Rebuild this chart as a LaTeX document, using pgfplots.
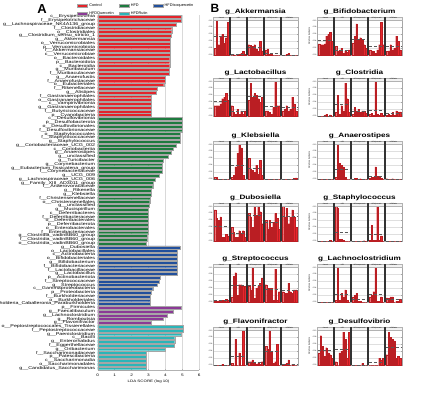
\documentclass[border=0pt]{standalone}
\usepackage{fontspec}
\setmainfont{Liberation Sans}
\newfontfamily\wfont[FakeStretch=1.3]{Liberation Sans}
\usepackage{pgfplots}
\usepackage{pgfplotstable}
\pgfplotsset{compat=1.18}
\definecolor{cred}{HTML}{E3242B}
\definecolor{cgreen}{HTML}{1E7B3F}
\definecolor{cblue}{HTML}{22509C}
\definecolor{cpurple}{HTML}{8B3A96}
\definecolor{ccyan}{HTML}{2BB5B8}
\definecolor{barred}{HTML}{E8262C}

% relative abundance per sample (5 groups x 8 samples)
\pgfplotstableread{
x  Akk  Bif  Lac  Clo  Kle  Ana  Dub  Sta  Str  Lcl  Fla  Des
1  0.20 0.32 0.30 0.00 0.05 0.00 0.90 0.00 0.02 0.00 0.00 0.35
2  1.00 0.30 0.30 0.00 0.05 0.00 0.65 0.00 0.02 0.00 0.00 0.85
3  0.30 0.30 0.30 0.00 0.00 0.00 0.60 0.00 0.03 0.00 0.00 0.55
4  0.55 0.32 0.35 0.02 0.00 0.00 0.70 0.00 0.02 0.00 0.00 0.25
5  0.60 0.55 0.50 0.05 0.00 0.00 0.10 0.00 0.05 0.00 0.02 0.50
6  0.35 0.60 0.55 0.00 0.00 0.00 0.10 0.00 0.05 0.00 0.00 0.35
7  0.50 0.65 0.65 0.03 0.00 0.00 0.20 0.02 0.08 0.00 0.00 0.30
8  0.95 0.40 0.45 0.00 0.00 0.00 0.15 0.00 0.05 0.00 0.00 0.20
10 0.00 0.25 0.30 0.10 0.05 0.05 0.40 1.00 0.15 0.05 0.05 0.10
11 0.01 0.10 0.10 0.60 0.10 1.00 0.25 0.95 0.75 1.00 0.00 0.00
12 0.00 0.15 0.05 0.05 0.35 0.45 0.10 0.05 0.85 0.05 0.75 0.35
13 0.02 0.20 0.20 0.30 0.75 0.40 0.10 0.05 0.20 0.25 0.00 0.40
14 0.02 0.05 0.05 0.15 1.00 0.35 0.30 0.02 0.50 0.15 0.35 0.95
15 0.05 0.12 0.15 0.95 0.90 0.05 0.20 0.00 0.50 0.35 0.00 0.75
16 0.10 0.08 0.05 0.50 0.10 0.00 0.30 0.00 0.45 0.05 1.00 0.20
17 0.02 0.15 0.15 0.10 0.00 0.00 0.10 0.00 0.45 0.00 0.00 0.95
19 0.30 0.35 0.45 0.05 0.60 0.00 0.80 0.00 0.45 0.15 0.10 0.00
20 0.28 0.55 0.95 0.25 0.30 0.02 0.70 0.00 0.35 0.20 0.10 0.00
21 0.25 0.90 0.55 0.15 0.25 0.02 0.40 0.00 1.00 0.25 0.15 0.00
22 0.30 0.45 0.65 0.20 0.20 0.00 1.00 0.00 0.10 0.02 0.05 0.00
23 0.18 0.50 0.60 0.10 0.40 0.01 0.75 0.00 0.40 0.02 0.02 0.00
24 0.10 0.45 0.50 0.15 0.15 0.00 1.00 0.00 0.45 0.00 0.05 0.05
25 0.40 0.30 0.40 0.15 0.55 0.00 0.85 0.01 0.55 0.00 0.02 0.00
26 0.12 0.20 0.55 0.08 0.10 0.00 0.50 0.00 0.70 0.00 0.10 0.00
28 0.15 0.15 0.15 0.05 0.00 0.02 0.60 0.02 0.50 0.15 0.55 0.00
29 0.18 0.12 0.15 0.08 0.00 0.05 0.35 0.45 0.40 0.20 0.45 0.00
30 0.02 0.10 0.10 0.02 0.00 0.05 0.60 0.02 0.40 0.30 1.00 0.00
31 0.02 0.05 0.05 1.00 0.00 0.35 0.40 0.02 0.40 1.00 0.40 0.00
32 0.00 0.15 0.25 0.05 0.00 0.08 0.55 1.00 0.05 0.02 0.05 0.00
33 0.00 0.30 1.00 0.02 0.00 0.05 0.80 0.02 0.95 0.02 0.10 0.20
34 0.00 0.95 0.30 0.08 0.00 0.02 0.65 0.15 0.05 0.15 0.60 0.15
35 0.00 0.30 0.30 0.02 0.00 0.00 0.35 0.00 0.30 0.00 0.00 0.20
37 0.00 0.10 0.15 0.02 0.00 0.01 1.00 0.00 0.30 0.12 0.02 0.30
38 0.00 0.12 0.20 0.05 0.00 0.00 0.70 0.00 0.25 0.10 0.02 0.95
39 0.02 0.30 0.30 0.02 0.00 0.00 0.95 0.00 0.25 0.15 0.05 0.80
40 0.05 0.15 0.15 0.10 0.00 0.01 0.50 0.00 0.55 0.15 0.15 0.75
41 0.00 0.20 0.20 0.02 0.00 0.00 0.70 0.00 0.30 0.00 0.00 0.70
42 0.00 0.55 0.55 0.15 0.00 0.00 0.90 0.00 0.25 0.02 0.02 0.20
43 0.00 0.40 0.35 0.12 0.02 0.00 0.70 0.00 0.35 0.02 0.00 0.25
44 0.00 0.15 0.15 0.12 0.03 0.00 0.40 0.00 0.35 0.08 0.00 0.20
}\bdata

% group means (dashed lines)
\pgfplotstableread{
x    Akk  Bif  Lac  Clo  Kle  Ana  Dub  Sta  Str  Lcl  Fla  Des
0.3  0.55 0.43 0.43 0.01 0.01 0.00 0.43 0.00 0.04 0.00 0.00 0.42
8.7  0.55 0.43 0.43 0.01 0.01 0.00 0.43 0.00 0.04 0.00 0.00 0.42
9    nan  nan  nan  nan  nan  nan  nan  nan  nan  nan  nan  nan
9.3  0.03 0.14 0.13 0.34 0.41 0.29 0.22 0.26 0.48 0.24 0.27 0.46
17.7 0.03 0.14 0.13 0.34 0.41 0.29 0.22 0.26 0.48 0.24 0.27 0.46
18   nan  nan  nan  nan  nan  nan  nan  nan  nan  nan  nan  nan
18.3 0.24 0.46 0.58 0.14 0.32 0.01 0.75 0.00 0.50 0.08 0.08 0.01
26.7 0.24 0.46 0.58 0.14 0.32 0.01 0.75 0.00 0.50 0.08 0.08 0.01
27   nan  nan  nan  nan  nan  nan  nan  nan  nan  nan  nan  nan
27.3 0.05 0.26 0.29 0.17 0.00 0.08 0.54 0.21 0.38 0.23 0.39 0.07
35.7 0.05 0.26 0.29 0.17 0.00 0.08 0.54 0.21 0.38 0.23 0.39 0.07
36   nan  nan  nan  nan  nan  nan  nan  nan  nan  nan  nan  nan
36.3 0.01 0.25 0.26 0.07 0.01 0.00 0.73 0.00 0.33 0.08 0.03 0.52
44.7 0.01 0.25 0.26 0.07 0.01 0.00 0.73 0.00 0.33 0.08 0.03 0.52
}\bmean

\pgfplotsset{
 bsub/.style={scale only axis, width=85pt, height=38pt, anchor=north west,
  xmin=0, xmax=45, ymin=0, ymax=1.1, xtick=\empty,
  ytick={0,0.2,0.4,0.6,0.8,1}, yticklabels={0.00,0.02,0.04,0.06,0.08,0.10},
  yticklabel style={font=\fontsize{1.8}{1.8}\selectfont, inner sep=0.4pt},
  ymajorgrids, major grid style={gray!25, line width=0.2pt},
  axis line style={gray!70, line width=0.3pt},
  major tick length=1pt, tick style={gray!70, line width=0.2pt},
  /pgf/number format/assume math mode=true,
  every axis title shift=0pt,
  title style={font=\wfont\bfseries\fontsize{6.3}{6.3}\selectfont, at={(0.5,1)}, anchor=base, yshift=3.2pt, inner sep=0pt},
  clip=false},
 ylab/.style={ylabel={Relative abundance}, ylabel style={font=\fontsize{2}{2}\selectfont, yshift=-1pt}},
}

\newcommand{\bstrip}{%
 \draw[gray!60, fill=gray!10, line width=0.2pt] (axis cs:0,1.02) rectangle (axis cs:9,1.1);
 \draw[gray!60, fill=gray!10, line width=0.2pt] (axis cs:9,1.02) rectangle (axis cs:18,1.1);
 \draw[gray!60, fill=gray!10, line width=0.2pt] (axis cs:18,1.02) rectangle (axis cs:27,1.1);
 \draw[gray!60, fill=gray!10, line width=0.2pt] (axis cs:27,1.02) rectangle (axis cs:36,1.1);
 \draw[gray!60, fill=gray!10, line width=0.2pt] (axis cs:36,1.02) rectangle (axis cs:45,1.1);
 \node[font=\fontsize{1.6}{1.6}\selectfont, inner sep=0pt] at (axis cs:4.5,1.06) {Control};
 \node[font=\fontsize{1.6}{1.6}\selectfont, inner sep=0pt] at (axis cs:13.5,1.06) {HFD};
 \node[font=\fontsize{1.6}{1.6}\selectfont, inner sep=0pt] at (axis cs:22.5,1.06) {HFDIsoquercetin};
 \node[font=\fontsize{1.6}{1.6}\selectfont, inner sep=0pt] at (axis cs:31.5,1.06) {HFDQuercetin};
 \node[font=\fontsize{1.6}{1.6}\selectfont, inner sep=0pt] at (axis cs:40.5,1.06) {HFDRutin};
 \draw[black!80, line width=1.1pt] (axis cs:9,0) -- (axis cs:9,1.1);
 \draw[black!80, line width=1.1pt] (axis cs:18,0) -- (axis cs:18,1.1);
 \draw[black!80, line width=1.1pt] (axis cs:27,0) -- (axis cs:27,1.1);
 \draw[black!80, line width=1.1pt] (axis cs:36,0) -- (axis cs:36,1.1);
}

\newcommand{\bpanel}[5]{%
\begin{axis}[bsub, at={(#1pt,#2pt)}, title={#3}, #5]
\addplot[ybar, bar width=0.78, bar shift=0pt, fill=barred, draw=barred!80!black, line width=0.1pt] table[x=x, y=#4] {\bdata};
\addplot[densely dashed, gray!70!black, line width=0.3pt, unbounded coords=jump] table[x=x, y=#4] {\bmean};
\bstrip
\end{axis}}

\begin{document}
\begin{tikzpicture}
\useasboundingbox (0pt,0pt) rectangle (447pt,-396pt);
\node[font=\bfseries\fontsize{13}{13}\selectfont] at (42pt,-9pt) {A};
\node[font=\bfseries\fontsize{12}{12}\selectfont] at (215pt,-8pt) {B};

\begin{axis}[
 at={(97.7pt,-15pt)}, anchor=north west, scale only axis,
 width=101.6pt, height=355pt,
 xmin=0, xmax=6, ymin=0.5, ymax=94.5, y dir=reverse,
 xbar, bar width=0.8, bar shift=0pt,
 axis lines*=left, y axis line style={draw=none},
 x axis line style={gray!60, line width=0.3pt},
 xtick={0,...,6}, ytick={1,...,94},
 ytick style={draw=none}, xtick style={gray!60, line width=0.3pt},
 major tick length=1.5pt,
 xmajorgrids, major grid style={gray!30, line width=0.3pt},
 /pgf/number format/assume math mode=true,
 xticklabel style={font=\wfont\fontsize{3.6}{3.6}\selectfont},
 yticklabel style={font=\wfont\fontsize{4.1}{4.1}\selectfont, inner sep=1pt},
 xlabel={LDA SCORE (log 10)},
 xlabel style={font=\wfont\fontsize{3.4}{3.4}\selectfont, yshift=3pt},
 legend columns=3,
 legend cell align=left,
 legend style={at={(-0.204,1.038)}, anchor=north west, draw=none, fill=none,
   font=\fontsize{3.8}{3.8}\selectfont, inner sep=0pt, row sep=-0.5pt,
   /tikz/every even column/.append style={column sep=3pt}},
 legend image code/.code={\fill[#1] (0pt,-1.7pt) rectangle (10pt,1.7pt);},
 yticklabels={
 c\_\_Erysipelotrichia, f\_\_Erysipelotrichaceae, g\_\_Lachnospiraceae\_NK4A136\_group,
 f\_\_Clostridiaceae, o\_\_Clostridiales, g\_\_Clostridium\_sensu\_stricto\_1,
 g\_\_Akkermansia, o\_\_Verrucomicrobiales, p\_\_Verrucomicrobiota,
 f\_\_Akkermansiaceae, c\_\_Verrucomicrobiae, o\_\_Bacteroidales,
 p\_\_Bacteroidota, c\_\_Bacteroidia, g\_\_Muribaculum,
 f\_\_Muribaculaceae, g\_\_Anaerofustis, f\_\_Anaerofustaceae,
 o\_\_Eubacteriales, f\_\_Rikenellaceae, g\_\_Alistipes,
 f\_\_Gastranaerophilales, o\_\_Gastranaerophilales, c\_\_Vampirivibrionia,
 g\_\_Gastranaerophilales, f\_\_Butyricicoccaceae, p\_\_Cyanobacteria,
 c\_\_Desulfovibrionia, p\_\_Desulfobacterota, o\_\_Desulfovibrionales,
 f\_\_Desulfovibrionaceae, o\_\_Staphylococcales, f\_\_Staphylococcaceae,
 g\_\_Staphylococcus, g\_\_Coriobacteriaceae\_UCG\_002, c\_\_Coriobacteriia,
 g\_\_Anaerostipes, g\_\_unclassified, g\_\_Turicibacter,
 g\_\_Corynebacterium, g\_\_Eubacterium\_fissicatena\_group, f\_\_Corynebacteriaceae,
 g\_\_UCG\_009, g\_\_Lachnospiraceae\_UCG\_006, g\_\_Family\_XIII\_AD3011\_group,
 f\_\_Anaerovoracaceae, g\_\_Rikenella, g\_\_Klebsiella,
 f\_\_Christensenellaceae, o\_\_Christensenellales, g\_\_unclassified,
 g\_\_Mucispirillum, c\_\_Deferribacteres, f\_\_Deferribacteraceae,
 o\_\_Deferribacterales, p\_\_Deferribacterota, o\_\_Enterobacterales,
 f\_\_Enterobacteriaceae, g\_\_Clostridia\_vadinBB60\_group, f\_\_Clostridia\_vadinBB60\_group,
 o\_\_Clostridia\_vadinBB60\_group,
 g\_\_Dubosiella, o\_\_Lactobacillales, c\_\_Actinobacteria,
 o\_\_Bifidobacteriales, g\_\_Bifidobacterium, f\_\_Bifidobacteriaceae,
 f\_\_Lactobacillaceae, g\_\_Lactobacillus, p\_\_Actinobacteriota,
 f\_\_Streptococcaceae, g\_\_Streptococcus, c\_\_Gammaproteobacteria,
 p\_\_Proteobacteria, f\_\_Burkholderiaceae, o\_\_Burkholderiales,
 g\_\_Burkholderia\_Caballeronia\_Paraburkholderia,
 p\_\_Firmicutes, g\_\_Faecalibaculum, g\_\_Lachnoclostridium,
 g\_\_Romboutsia, g\_\_Flavonifractor,
 o\_\_Peptostreptococcales\_Tissierellales, f\_\_Peptostreptococcaceae, g\_\_Paeniclostridium,
 c\_\_Bacilli, g\_\_Enterorhabdus, f\_\_Eggerthellaceae,
 g\_\_Oribacterium, f\_\_Saccharimonadaceae, p\_\_Patescibacteria,
 c\_\_Saccharimonadia, o\_\_Saccharimonadales, g\_\_Candidatus\_Saccharimonas},
]
\addplot[fill=cred, draw=gray!70, line width=0.2pt] coordinates {
(4.95,1) (4.95,2) (4.65,3) (4.37,4) (4.37,5) (4.36,6) (4.27,7) (4.27,8) (4.27,9)
(4.26,10) (4.26,11) (4.25,12) (4.25,13) (4.25,14) (4.2,15) (4.2,16) (4.0,17) (4.0,18)
(3.9,19) (3.5,20) (3.45,21) (3.18,22) (3.18,23) (3.18,24) (3.18,25) (3.18,26) (3.18,27)};
\addlegendentry{Control}
\addplot[fill=cgreen, draw=gray!70, line width=0.2pt] coordinates {
(5.0,28) (5.0,29) (5.0,30) (5.0,31) (4.88,32) (4.87,33) (4.85,34) (4.65,35) (4.45,36)
(4.35,37) (4.15,38) (3.85,39) (3.82,40) (3.82,41) (3.82,42) (3.65,43) (3.4,44) (3.3,45)
(3.25,46) (3.18,47) (3.15,48) (3.08,49) (3.07,50) (3.05,51) (3.0,52) (3.0,53) (3.0,54)
(3.0,55) (2.99,56) (2.98,57) (2.98,58) (2.9,59) (2.9,60) (2.88,61)};
\addlegendentry{HFD}
\addplot[fill=cblue, draw=gray!70, line width=0.2pt] coordinates {
(4.85,62) (4.68,63) (4.68,64) (4.68,65) (4.68,66) (4.68,67) (4.68,68) (4.68,69)
(3.68,70) (3.62,71) (3.5,72) (3.25,73) (3.18,74) (3.12,75) (3.12,76) (3.1,77)};
\addlegendentry{HFDIsoquercetin}
\addplot[fill=cpurple, draw=gray!70, line width=0.2pt] coordinates {
(4.93,78) (4.45,79) (4.1,80) (3.87,81) (3.18,82)};
\addlegendentry{HFDQuercetin}
\addplot[fill=ccyan, draw=gray!70, line width=0.2pt] coordinates {
(5.05,83) (5.05,84) (4.93,85) (4.55,86) (4.55,87) (4.52,88) (3.97,89)
(2.85,90) (2.85,91) (2.85,92) (2.85,93) (2.85,94)};
\addlegendentry{HFDRutin}
\end{axis}

\bpanel{213}{-17}{g\_Akkermansia}{Akk}{}
\bpanel{317}{-17}{g\_Bifidobacterium}{Bif}{ylab}
\bpanel{213}{-78}{g\_Lactobacillus}{Lac}{}
\bpanel{317}{-78}{g\_Clostridia}{Clo}{ylab}
\bpanel{213}{-141}{g\_Klebsiella}{Kle}{}
\bpanel{317}{-141}{g\_Anaerostipes}{Ana}{ylab}
\bpanel{213}{-203}{g\_Dubosiella}{Dub}{}
\bpanel{317}{-203}{g\_Staphylococcus}{Sta}{ylab}
\bpanel{213}{-264}{g\_Streptococcus}{Str}{}
\bpanel{317}{-264}{g\_Lachnoclostridium}{Lcl}{ylab}
\bpanel{213}{-327}{g\_Flavonifractor}{Fla}{}
\bpanel{317}{-327}{g\_Desulfovibrio}{Des}{ylab}
\end{tikzpicture}
\end{document}
